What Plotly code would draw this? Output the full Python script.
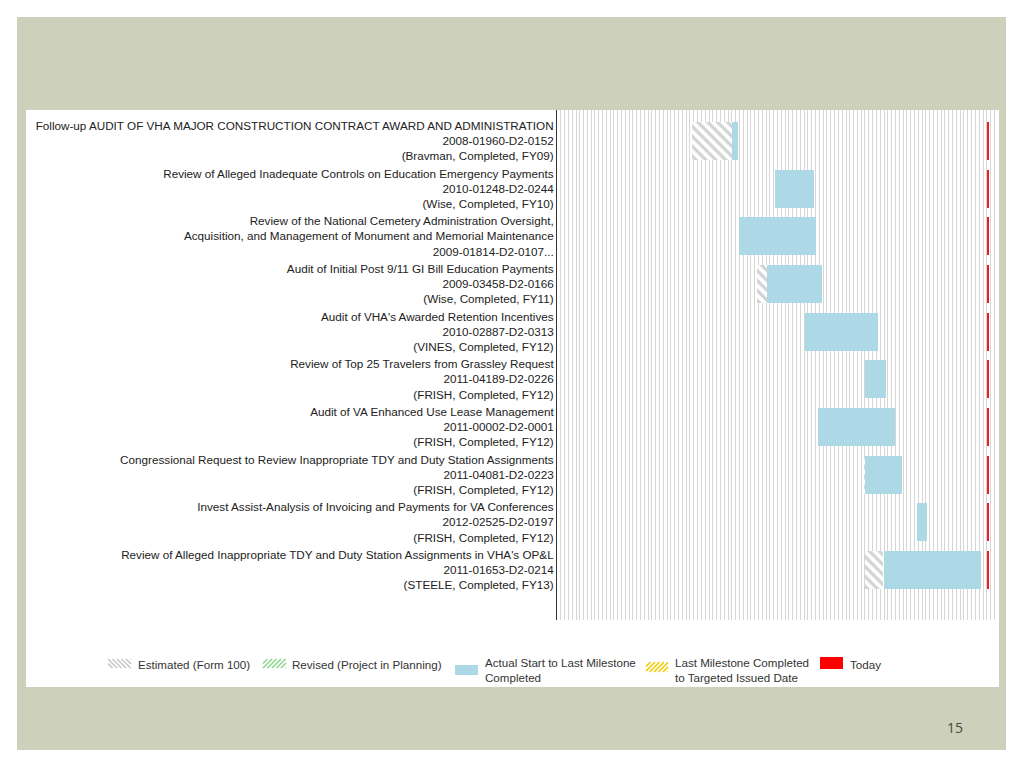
import plotly.graph_objects as go
import pandas as pd

# ---------------- data ----------------
labels = [
    "Follow-up AUDIT OF VHA MAJOR CONSTRUCTION CONTRACT AWARD AND ADMINISTRATION<br>2008-01960-D2-0152<br>(Bravman, Completed, FY09)",
    "Review of Alleged Inadequate Controls on Education Emergency Payments<br>2010-01248-D2-0244<br>(Wise, Completed, FY10)",
    "Review of the National Cemetery Administration Oversight,<br>Acquisition, and Management of Monument and Memorial Maintenance<br>2009-01814-D2-0107...",
    "Audit of Initial Post 9/11 GI Bill Education Payments<br>2009-03458-D2-0166<br>(Wise, Completed, FY11)",
    "Audit of VHA's Awarded Retention Incentives<br>2010-02887-D2-0313<br>(VINES, Completed, FY12)",
    "Review of Top 25 Travelers from Grassley Request<br>2011-04189-D2-0226<br>(FRISH, Completed, FY12)",
    "Audit of VA Enhanced Use Lease Management<br>2011-00002-D2-0001<br>(FRISH, Completed, FY12)",
    "Congressional Request to Review Inappropriate TDY and Duty Station Assignments<br>2011-04081-D2-0223<br>(FRISH, Completed, FY12)",
    "Invest Assist-Analysis of Invoicing and Payments for VA Conferences<br>2012-02525-D2-0197<br>(FRISH, Completed, FY12)",
    "Review of Alleged Inappropriate TDY and Duty Station Assignments in VHA's OP&L<br>2011-01653-D2-0214<br>(STEELE, Completed, FY13)",
]

# Estimated (Form 100) segments
est_start = ["2007-08-19", None, None, "2009-01-22", None, None, None, "2011-05-25", None, "2011-06-02"]
est_end   = ["2008-07-02", None, None, "2009-04-09", None, None, None, "2011-06-02", None, "2011-10-20"]

# Actual start to last milestone completed
act_start = ["2008-07-02", "2009-06-13", "2008-08-25", "2009-04-09", "2010-02-09",
             "2011-06-02", "2010-05-24", "2011-06-02", "2012-07-18", "2011-10-28"]
act_end   = ["2008-08-19", "2010-04-19", "2010-05-07", "2010-06-22", "2011-09-15",
             "2011-11-18", "2012-01-27", "2012-03-22", "2012-10-12", "2013-12-18"]

today_start = "2014-02-02"
today_end = "2014-02-12"

axis_start = "2004-09-01"
axis_end = "2014-05-01"

legend_items = ["Estimated (Form 100)", "Revised (Project in Planning)",
                "Actual Start to Last Milestone<br>Completed",
                "Last Milestone Completed<br>to Targeted Issued Date", "Today"]
page_number = "15"

# ---------------- helpers ----------------
def dur_ms(s, e):
    return (pd.to_datetime(e) - pd.to_datetime(s)).total_seconds() * 1000.0

OFF = 8  # page body margin
W, H = 1024 - OFF, 768 - OFF
L, R, T, B = 557 - OFF, 998 - OFF, 110 - OFF, 620 - OFF

def px(x):
    return (x - OFF - L) / (R - L)
def py(y):
    return (B - (y - OFF)) / (B - T)

FONT = "Liberation Sans, Arial, sans-serif"
BLUE = "#ADD8E6"
RED = "#EE1C25"

fig = go.Figure()

# estimated hatch bars
ei = [i for i, s in enumerate(est_start) if s]
fig.add_trace(go.Bar(
    orientation="h",
    y=ei,
    base=[est_start[i] for i in ei],
    x=[dur_ms(est_start[i], est_end[i]) for i in ei],
    width=0.8,
    marker=dict(color="white", line=dict(width=0),
                pattern=dict(shape="\\", fgcolor="#D2D2D2", bgcolor="white",
                             size=7, solidity=0.45, fillmode="replace")),
    name="Estimated (Form 100)", showlegend=False, hoverinfo="skip",
))

# actual bars
fig.add_trace(go.Bar(
    orientation="h",
    y=list(range(len(act_start))),
    base=act_start,
    x=[dur_ms(s, e) for s, e in zip(act_start, act_end)],
    width=0.8,
    marker=dict(color=BLUE, line=dict(width=0)),
    name="Actual Start to Last Milestone Completed", showlegend=False,
))

# today marker bars
fig.add_trace(go.Bar(
    orientation="h",
    y=list(range(len(labels))),
    base=[today_start] * len(labels),
    x=[dur_ms(today_start, today_end)] * len(labels),
    width=0.8,
    marker=dict(color=RED, line=dict(width=0)),
    name="Today", showlegend=False,
))

shapes = []
# slide background
shapes.append(dict(type="rect", xref="paper", yref="paper", layer="below",
                   x0=px(17), x1=px(1006), y0=py(750), y1=py(17),
                   fillcolor="#CDD0BA", line=dict(width=0)))
# white panel
shapes.append(dict(type="rect", xref="paper", yref="paper", layer="below",
                   x0=px(26), x1=px(999), y0=py(687), y1=py(110),
                   fillcolor="white", line=dict(width=0)))


def hatch(x0, x1, y0, y1, color, spacing=4.5, direction="\\", width=1.6):
    h = y1 - y0
    c = x0 - h
    out = []
    while c < x1 + h:
        if direction == "\\":
            ys = max(y0, y0 + (x0 - c))
            ye = min(y1, y0 + (x1 - c))
            if ye > ys:
                out.append(dict(type="line", xref="paper", yref="paper",
                                x0=px(c + ys - y0), y0=py(ys),
                                x1=px(c + ye - y0), y1=py(ye),
                                line=dict(color=color, width=width)))
        else:
            ys = max(y0, y1 - (x1 - c))
            ye = min(y1, y1 - (x0 - c))
            if ye > ys:
                out.append(dict(type="line", xref="paper", yref="paper",
                                x0=px(c + y1 - ys), y0=py(ys),
                                x1=px(c + y1 - ye), y1=py(ye),
                                line=dict(color=color, width=width)))
        c += spacing
    return out

# legend swatches
shapes += hatch(108, 131, 659, 668, "#C8C8C8", direction="\\")
shapes += hatch(263, 286, 659, 668, "#8FD88F", direction="/")
shapes.append(dict(type="rect", xref="paper", yref="paper",
                   x0=px(455), x1=px(478), y0=py(675), y1=py(665),
                   fillcolor=BLUE, line=dict(width=0)))
shapes += hatch(646, 668, 662, 672, "#F2CC00", direction="/")
shapes.append(dict(type="rect", xref="paper", yref="paper",
                   x0=px(820), x1=px(843), y0=py(669), y1=py(657),
                   fillcolor="#FF0000", line=dict(width=0)))

annotations = []
leg_pos = [(136, 664), (290, 664), (483, 670), (673, 670), (848, 664)]
for txt, (lx, ly) in zip(legend_items, leg_pos):
    annotations.append(dict(text=txt, xref="paper", yref="paper", x=px(lx), y=py(ly),
                            xanchor="left", yanchor="middle", align="left", showarrow=False,
                            font=dict(family=FONT, size=11.6, color="#333333")))
annotations.append(dict(text=page_number, xref="paper", yref="paper", x=px(955), y=py(727),
                        xanchor="center", yanchor="middle", showarrow=False,
                        font=dict(family="Open Sans, Liberation Sans, sans-serif", size=14, color="#4A4A40")))

fig.update_layout(
    width=W, height=H,
    margin=dict(l=L, r=W - R, t=T, b=H - B, pad=0),
    paper_bgcolor="white", plot_bgcolor="white",
    barmode="overlay", bargap=0,
    showlegend=False,
    shapes=shapes, annotations=annotations,
    font=dict(family=FONT),
    xaxis=dict(type="date", range=[axis_start, axis_end], tick0=axis_start, dtick="M1",
               showgrid=True, gridcolor="#D6D6D6", gridwidth=1,
               showticklabels=False, ticks="", zeroline=False, showline=False,
               automargin=False),
    yaxis=dict(tickmode="array", tickvals=list(range(len(labels))), ticktext=labels,
               range=[10.05, -0.65], showgrid=False, zeroline=False,
               showline=True, linecolor="#333333", linewidth=1, ticks="",
               tickfont=dict(family=FONT, size=11.7, color="#222222"),
               automargin=False),
)

fig.write_html("out.html")
